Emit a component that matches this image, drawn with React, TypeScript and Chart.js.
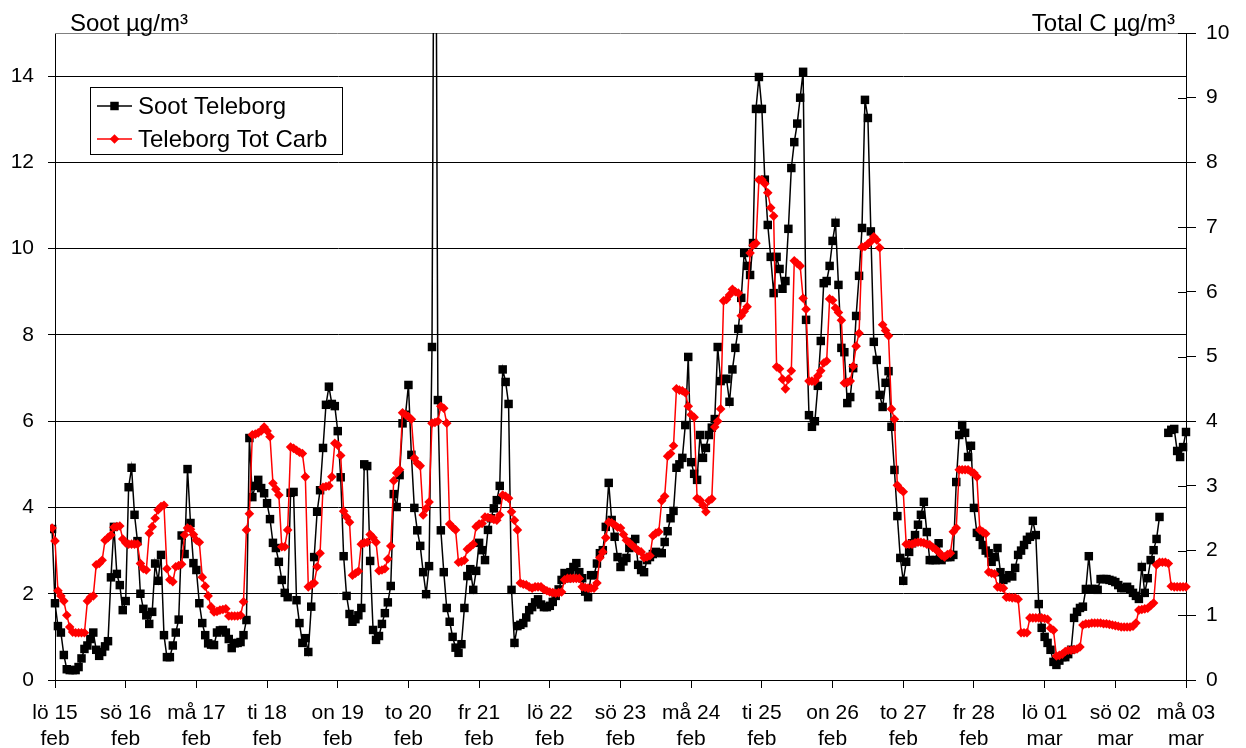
import { useEffect, useRef } from 'react';
import { Chart, registerables } from 'chart.js';

Chart.register(...registerables);

// Hourly series; the first value is 14 feb 23:00, then one value per hour.
const FIRST_HOUR = -1;

const DAY_LABELS: string[][] = [
  ['lö 15', 'feb'], ['sö 16', 'feb'], ['må 17', 'feb'], ['ti 18', 'feb'],
  ['on 19', 'feb'], ['to 20', 'feb'], ['fr 21', 'feb'], ['lö 22', 'feb'],
  ['sö 23', 'feb'], ['må 24', 'feb'], ['ti 25', 'feb'], ['on 26', 'feb'],
  ['to 27', 'feb'], ['fr 28', 'feb'], ['lö 01', 'mar'], ['sö 02', 'mar'],
  ['må 03', 'mar'],
];

const SOOT_LABEL = 'Soot Teleborg';
const TOT_CARB_LABEL = 'Teleborg Tot Carb';
const LEFT_TITLE = 'Soot µg/m³';
const RIGHT_TITLE = 'Total C µg/m³';

// Soot, µg/m³ (left axis)
const SOOT: (number | null)[] = [
  3.5,
  // lö 15 feb
  1.78, 1.25, 1.1, 0.58, 0.25, 0.23, 0.23, 0.23, 0.3, 0.5, 0.72, 0.8, 0.95, 1.1, 0.7, 0.56, 0.65, 0.78, 0.9, 2.38, 3.55, 2.46, 2.2, 1.62,
  // sö 16 feb
  1.83, 4.47, 4.92, 3.83, 3.22, 2.0, 1.65, 1.5, 1.3, 1.58, 2.7, 2.3, 2.9, 1.04, 0.53, 0.53, 0.8, 1.1, 1.4, 3.35, 2.92, 4.89, 3.64, 2.71,
  // må 17 feb
  2.55, 1.78, 1.32, 1.04, 0.85, 0.82, 0.81, 1.1, 1.15, 1.16, 1.1, 0.95, 0.74, 0.85, 0.86, 0.88, 1.04, 1.39, 5.61, 4.24, 4.5, 4.64, 4.45, 4.33,
  // ti 18 feb
  4.1, 3.73, 3.18, 3.06, 2.74, 2.32, 2.02, 1.92, 4.34, 4.36, 1.85, 1.32, 0.86, 0.97, 0.65, 1.7, 2.85, 3.9, 4.4, 5.38, 6.38, 6.8, 6.4, 6.35,
  // on 19 feb
  5.77, 4.7, 2.87, 1.95, 1.53, 1.35, 1.41, 1.5, 1.67, 5.0, 4.96, 2.76, 1.16, 0.93, 1.02, 1.3, 1.55, 1.8, 2.18, 4.31, 4.01, 4.75, 5.95, 6.15,
  // to 20 feb
  6.84, 5.22, 3.99, 3.47, 3.11, 2.5, 1.99, 2.64, 7.72, 24, 6.49, 3.47, 2.5, 1.67, 1.35, 1.0, 0.75, 0.63, 0.83, 1.67, 2.41, 2.57, 2.09, 2.53,
  // fr 21 feb
  3.18, 3.01, 2.78, 3.48, 3.75, 3.98, 4.17, 4.5, 7.2, 6.91, 6.4, 2.09, 0.86, 1.25, 1.28, 1.32, 1.45, 1.62, 1.69, 1.8, 1.87, 1.75, 1.69, 1.69,
  // lö 22 feb
  1.72, 1.81, 1.95, 2.1, 2.32, 2.48, 2.36, 2.5, 2.62, 2.71, 2.5, 2.36, 2.05, 1.92, 2.43, 2.43, 2.7, 2.94, 3.01, 3.55, 4.57, 3.71, 3.32, 2.85,
  // sö 23 feb
  2.62, 2.75, 2.83, 3.06, 3.2, 3.27, 2.67, 2.55, 2.5, 2.78, 2.85, 2.92, 2.97, 2.95, 2.94, 3.2, 3.45, 3.75, 3.92, 4.92, 5.0, 5.15, 5.91, 7.49,
  // må 24 feb
  5.05, 4.78, 4.64, 5.68, 5.15, 5.38, 5.68, 5.85, 6.05, 7.72, 6.93, 6.98, 6.98, 6.45, 7.2, 7.7, 8.14, 8.86, 9.9, 9.6, 9.39, 10.13, 13.24, 13.98,
  // ti 25 feb
  13.24, 11.6, 10.55, 9.81, 8.97, 9.81, 9.53, 9.07, 9.25, 10.46, 11.87, 12.47, 12.9, 13.5, 14.1, 8.35, 6.14, 5.87, 6.0, 6.82, 7.86, 9.2, 9.25, 9.6,
  // on 26 feb
  10.18, 10.6, 9.16, 7.7, 7.6, 6.42, 6.56, 7.23, 8.44, 9.37, 10.48, 13.45, 13.03, 10.4, 7.84, 7.42, 6.61, 6.33, 6.89, 7.16, 5.87, 4.87, 3.8, 2.83,
  // to 27 feb
  2.3, 2.74, 2.97, 3.17, 3.36, 3.6, 3.83, 4.13, 3.43, 2.78, 2.78, 2.78, 3.17, 2.78, 2.85, 2.85, 2.85, 2.9, 4.59, 5.68, 5.91, 5.73, 5.17, 5.43,
  // fr 28 feb
  3.99, 3.41, 3.32, 3.13, 3.0, 2.94, 2.74, 2.85, 3.06, 2.5, 2.32, 2.36, 2.43, 2.4, 2.6, 2.9, 3.0, 3.13, 3.25, 3.32, 3.69, 3.36, 1.76, 1.21,
  // lö 01 mar
  1.0, 0.86, 0.7, 0.42, 0.35, 0.45, 0.53, 0.53, 0.6, 0.7, 1.44, 1.58, 1.67, 1.7, 2.11, 2.87, 2.11, 2.11, 2.09, 2.34, 2.34, 2.34, 2.32, 2.3,
  // sö 02 mar
  2.27, 2.2, 2.13, 2.13, 2.16, 2.1, 2.02, 1.95, 1.88, 2.62, 2.02, 2.36, 2.78, 3.01, 3.27, 3.78, null, null, 5.73, 5.8, 5.82, 5.31, 5.17, 5.4,
  // må 03 mar
  5.75, 5.52, 5.2,
];

// Total carbon, µg/m³ (right axis)
const TOT_CARB: (number | null)[] = [
  2.35,
  // lö 15 feb
  2.15, 1.38, 1.3, 1.22, 1.0, 0.82, 0.74, 0.73, 0.73, 0.73, 0.73, 1.22, 1.28, 1.3, 1.78, 1.8, 1.85, 2.16, 2.2, 2.24, 2.36, 2.37, 2.38, 2.18,
  // sö 16 feb
  2.12, 2.1, 2.1, 2.1, 2.1, 1.8, 1.72, 1.7, 2.27, 2.37, 2.5, 2.63, 2.68, 2.7, 1.72, 1.55, 1.52, 1.75, 1.77, 1.79, 2.24, 2.35, 2.33, 2.25,
  // må 17 feb
  2.16, 2.13, 1.59, 1.45, 1.3, 1.13, 1.05, 1.06, 1.08, 1.09, 1.1, 0.99, 0.99, 0.99, 0.99, 1.0, 1.21, 2.32, 2.57, 3.79, 3.8, 3.82, 3.85, 3.91,
  // ti 18 feb
  3.85, 3.76, 3.04, 2.95, 2.86, 2.06, 2.06, 2.32, 3.6, 3.58, 3.55, 3.52, 3.5, 3.14, 1.44, 1.47, 1.5, 1.75, 1.96, 2.98, 2.99, 3.0, 3.14, 3.66,
  // on 19 feb
  3.63, 3.47, 2.61, 2.52, 2.44, 1.62, 1.65, 1.68, 2.1, 2.12, 2.13, 2.25, 2.2, 2.13, 1.69, 1.7, 1.72, 1.87, 2.07, 3.08, 3.2, 3.25, 4.13, 4.1,
  // to 20 feb
  4.07, 4.03, 3.43, 3.35, 3.31, 2.55, 2.65, 2.75, 3.97, 3.98, 4.0, 4.23, 4.2, 3.97, 2.41, 2.36, 2.32, 1.82, 1.83, 1.85, 2.02, 2.06, 2.1, 2.37,
  // fr 21 feb
  2.41, 2.42, 2.52, 2.51, 2.5, 2.48, 2.47, 2.55, 2.86, 2.84, 2.81, 2.6, 2.47, 2.32, 1.5, 1.48, 1.47, 1.44, 1.42, 1.44, 1.44, 1.44, 1.4, 1.38,
  // lö 22 feb
  1.36, 1.35, 1.34, 1.35, 1.36, 1.55, 1.57, 1.57, 1.57, 1.57, 1.57, 1.44, 1.43, 1.42, 1.42, 1.42, 1.5, 1.89, 1.98, 2.2, 2.44, 2.43, 2.4, 2.36,
  // sö 23 feb
  2.35, 2.25, 2.16, 2.12, 2.08, 2.04, 2.0, 1.98, 1.89, 1.9, 1.92, 2.23, 2.27, 2.29, 2.77, 2.84, 3.46, 3.5, 3.62, 4.5, 4.48, 4.47, 4.44, 4.23,
  // må 24 feb
  4.1, 4.06, 2.81, 2.78, 2.7, 2.6, 2.77, 2.8, 3.91, 4.0, 4.19, 5.86, 5.88, 5.95, 6.04, 6.0, 5.98, 5.63, 5.7, 5.77, 6.6, 6.72, 6.75, 7.73,
  // ti 25 feb
  7.73, 7.67, 7.53, 7.3, 7.17, 4.84, 4.81, 4.65, 4.5, 4.65, 4.78, 6.48, 6.44, 6.4, 5.9, 5.73, 4.62, 4.62, 4.62, 4.7, 4.78, 4.9, 4.93, 5.89,
  // on 26 feb
  5.87, 5.75, 5.68, 5.56, 4.59, 4.6, 4.62, 4.85, 5.16, 5.36, 6.69, 6.7, 6.74, 6.78, 6.85, 6.8, 6.68, 5.49, 5.4, 5.32, 4.19, 4.03, 3.01, 2.95,
  // to 27 feb
  2.91, 2.1, 2.1, 2.1, 2.12, 2.13, 2.13, 2.12, 2.1, 2.09, 2.05, 2.02, 1.98, 1.93, 1.9, 1.94, 1.96, 2.29, 2.35, 3.25, 3.25, 3.25, 3.25, 3.22,
  // fr 28 feb
  3.2, 3.14, 2.32, 2.29, 2.26, 1.67, 1.65, 1.64, 1.44, 1.43, 1.42, 1.28, 1.28, 1.27, 1.27, 1.25, 0.73, 0.73, 0.73, 0.96, 0.96, 0.96, 0.96, 0.96,
  // lö 01 mar
  0.95, 0.94, 0.8, 0.77, 0.37, 0.38, 0.4, 0.44, 0.46, 0.46, 0.47, 0.48, 0.51, 0.85, 0.87, 0.87, 0.88, 0.88, 0.88, 0.88, 0.87, 0.87, 0.86, 0.85,
  // sö 02 mar
  0.84, 0.83, 0.82, 0.82, 0.82, 0.82, 0.83, 0.88, 1.08, 1.09, 1.1, 1.11, 1.15, 1.19, 1.78, 1.82, 1.82, 1.82, 1.8, 1.45, 1.44, 1.44, 1.44, 1.44,
  // må 03 mar
  1.44, 1.44, null,
];

const HOURS = SOOT.map((_, i) => FIRST_HOUR + i);

const FONT = 'Liberation Sans, Arial, Helvetica, sans-serif';
const SOOT_COLOR = '#000000';
const CARB_COLOR = '#ff0000';
const SQUARE_R = 6;
const DIAMOND_R = 4.8;

function drawMarker(ctx: CanvasRenderingContext2D, shape: string, x: number, y: number, color: string) {
  ctx.fillStyle = color;
  ctx.beginPath();
  if (shape === 'rect') {
    const s = SQUARE_R * Math.SQRT1_2;
    ctx.rect(x - s, y - s, 2 * s, 2 * s);
  } else {
    ctx.moveTo(x, y - DIAMOND_R);
    ctx.lineTo(x + DIAMOND_R, y);
    ctx.lineTo(x, y + DIAMOND_R);
    ctx.lineTo(x - DIAMOND_R, y);
    ctx.closePath();
  }
  ctx.fill();
}

const decorations = {
  id: 'decorations',
  beforeDatasetsDraw(chart: any) {
    const { ctx, chartArea: ca, scales } = chart;
    ctx.save();
    ctx.lineWidth = 1;
    // upper frame of the plot area
    ctx.strokeStyle = '#808080';
    ctx.beginPath();
    ctx.moveTo(ca.left, Math.round(ca.top) + 0.5);
    ctx.lineTo(ca.right, Math.round(ca.top) + 0.5);
    ctx.stroke();
    // inner half of the crossing ticks on the right axis
    ctx.strokeStyle = '#000';
    const y2 = scales.y2;
    y2.ticks.forEach((t: any) => {
      const y = Math.round(y2.getPixelForValue(t.value)) + 0.5;
      ctx.beginPath();
      ctx.moveTo(ca.right - 8, y);
      ctx.lineTo(ca.right, y);
      ctx.stroke();
    });
    ctx.restore();
  },
  afterDraw(chart: any) {
    const { ctx, chartArea: ca } = chart;
    ctx.save();
    // axis titles
    ctx.fillStyle = '#000';
    ctx.font = `24px ${FONT}`;
    ctx.textBaseline = 'alphabetic';
    ctx.textAlign = 'left';
    ctx.fillText(LEFT_TITLE, ca.left + 15, ca.top - 2);
    ctx.textAlign = 'right';
    ctx.fillText(RIGHT_TITLE, ca.right - 11, ca.top - 2);

    // legend box
    const lx = ca.left + 35;
    const ly = ca.top + 54;
    const lw = 252;
    const lh = 67;
    ctx.fillStyle = '#fff';
    ctx.fillRect(lx, ly, lw, lh);
    ctx.strokeStyle = '#000';
    ctx.lineWidth = 1;
    ctx.strokeRect(lx + 0.5, ly + 0.5, lw, lh);
    const rows = [
      { ds: chart.data.datasets[0], shape: 'rect' },
      { ds: chart.data.datasets[1], shape: 'diamond' },
    ];
    rows.forEach((r, i) => {
      const y = ly + 19 + i * 33;
      ctx.strokeStyle = r.ds.borderColor;
      ctx.lineWidth = 1.5;
      ctx.beginPath();
      ctx.moveTo(lx + 7, y);
      ctx.lineTo(lx + 42, y);
      ctx.stroke();
      drawMarker(ctx, r.shape, lx + 24.5, y, r.ds.borderColor);
      ctx.fillStyle = '#000';
      ctx.font = `24px ${FONT}`;
      ctx.textAlign = 'left';
      ctx.textBaseline = 'middle';
      ctx.fillText(r.ds.label, lx + 48, y + 1);
    });
    ctx.restore();
  },
};

export default function App() {
  const canvasRef = useRef<HTMLCanvasElement | null>(null);

  useEffect(() => {
    const canvas = canvasRef.current;
    if (!canvas) return;
    const tickFont = { family: FONT, size: 21, lineHeight: 1.2 };
    const chart = new Chart(canvas, {
      type: 'line',
      data: {
        labels: HOURS,
        datasets: [
          {
            label: SOOT_LABEL,
            data: SOOT,
            yAxisID: 'y',
            borderColor: SOOT_COLOR,
            backgroundColor: SOOT_COLOR,
            borderWidth: 1.5,
            pointStyle: 'rect',
            pointRadius: SQUARE_R,
            pointBorderWidth: 0,
            pointBackgroundColor: SOOT_COLOR,
            tension: 0,
            order: 2,
            clip: { left: 5, top: 0, right: 8, bottom: 0 },
          },
          {
            label: TOT_CARB_LABEL,
            data: TOT_CARB,
            yAxisID: 'y2',
            borderColor: CARB_COLOR,
            backgroundColor: CARB_COLOR,
            borderWidth: 1.5,
            pointStyle: 'rectRot',
            pointRadius: DIAMOND_R,
            pointBorderWidth: 0,
            pointBackgroundColor: CARB_COLOR,
            tension: 0,
            order: 1,
            clip: { left: 5, top: 0, right: 8, bottom: 0 },
          },
        ],
      },
      options: {
        animation: false,
        responsive: false,
        devicePixelRatio: 1,
        layout: { padding: { top: 33, left: 0, right: 0, bottom: 0 } },
        plugins: {
          legend: { display: false },
          tooltip: { enabled: false },
          title: { display: false },
        },
        scales: {
          x: {
            type: 'linear',
            min: 0,
            max: 384,
            grid: {
              drawOnChartArea: false,
              drawTicks: true,
              tickLength: 8,
              color: '#000',
            },
            border: { display: true, color: '#000', width: 1 },
            ticks: {
              stepSize: 24,
              autoSkip: false,
              maxRotation: 0,
              minRotation: 0,
              padding: 13,
              color: '#000',
              font: tickFont,
              callback: (v: any) => DAY_LABELS[Math.round(Number(v) / 24)] ?? '',
            },
            afterFit: (s: any) => {
              s.height = 68;
            },
          },
          y: {
            position: 'left',
            min: 0,
            max: 15,
            grid: {
              color: '#000',
              lineWidth: 1,
              drawTicks: true,
              tickLength: 7,
            },
            border: { display: true, color: '#000', width: 1 },
            ticks: {
              stepSize: 2,
              includeBounds: false,
              padding: 14,
              color: '#000',
              font: tickFont,
            },
            afterFit: (s: any) => {
              s.width = 55;
            },
          },
          y2: {
            position: 'right',
            min: 0,
            max: 10,
            grid: {
              drawOnChartArea: false,
              drawTicks: true,
              tickLength: 10,
              color: '#000',
            },
            border: { display: true, color: '#000', width: 1 },
            ticks: {
              stepSize: 1,
              padding: 10,
              color: '#000',
              font: tickFont,
            },
            afterFit: (s: any) => {
              s.width = 60;
            },
          },
        },
      } as any,
      plugins: [decorations],
    });
    return () => chart.destroy();
  }, []);

  return (
    <div style={{ position: 'absolute', left: 0, top: 0, width: 1246, height: 748, background: '#fff' }}>
      <canvas ref={canvasRef} width={1246} height={748} style={{ display: 'block' }} />
    </div>
  );
}
